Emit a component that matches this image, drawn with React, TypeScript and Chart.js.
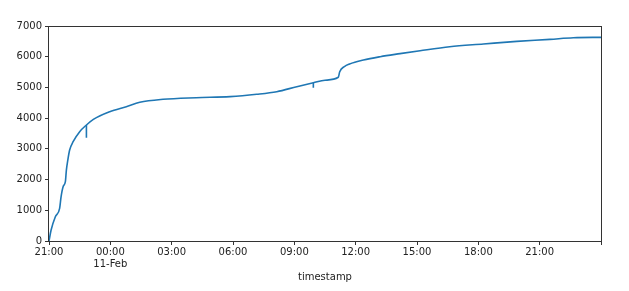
import React, { useEffect, useRef } from "react";
import { Chart, registerables } from "chart.js";

Chart.register(...registerables);

// hours elapsed since 21:00 on 10-Feb
const hours = [
  0, 0.1, 0.31, 0.52, 0.59, 0.69, 0.8, 0.85, 0.92, 1.01, 1.18, 1.5, 1.83,
  2.17, 2.97, 3.78, 4.44, 5.58, 7.2, 8.86, 10.16, 11.14, 12.12, 12.93, 13.5,
  14.15, 14.22, 14.45, 14.7, 15.38, 16.2, 17.17, 18.15, 19.6, 21.25, 22.88,
  24.5, 25.65, 27,
];
const values = [
  0, 350, 790, 1063, 1440, 1770, 1930, 2310, 2637, 2963, 3233, 3560, 3777,
  3960, 4210, 4373, 4515, 4613, 4666, 4700, 4776, 4861, 5024, 5150, 5235,
  5330, 5512, 5680, 5763, 5893, 6000, 6100, 6196, 6326, 6414, 6500,
  6565, 6619, 6630,
];
// short downward glitches in the series
const spikeHours = [1.83, 12.93];
const spikeTops = [3777, 5150];
const spikeLows = [3364, 4990];

const xTickLabels: (string | string[])[] = [
  "21:00", ["00:00", "11-Feb"], "03:00", "06:00", "09:00", "12:00", "15:00", "18:00", "21:00", "",
];
const yTickLabels = ["0", "1000", "2000", "3000", "4000", "5000", "6000", "7000"];
const xTitle = "timestamp";

const framePlugin = {
  id: "frame",
  afterDatasetsDraw(chart: any) {
    const { ctx, chartArea: a } = chart;
    ctx.save();
    ctx.strokeStyle = "#333";
    ctx.lineWidth = 1;
    ctx.strokeRect(
      Math.round(a.left) - 0.5,
      Math.round(a.top) + 0.5,
      Math.round(a.right - a.left) + 1,
      Math.round(a.bottom - a.top)
    );
    ctx.restore();
  },
};

export default function App() {
  const ref = useRef<HTMLCanvasElement>(null);
  useEffect(() => {
    document.body.style.margin = "0";
    const font = { family: "'DejaVu Sans', sans-serif", size: 10 };
    const lineStyle = {
      borderColor: "#1f77b4",
      borderWidth: 1.6,
      pointRadius: 0,
      fill: false,
    };
    const chart = new Chart(ref.current!, {
      type: "line",
      data: {
        datasets: [
          {
            ...lineStyle,
            data: hours.map((h, i) => ({ x: h, y: values[i] })),
            cubicInterpolationMode: "monotone",
          },
          ...spikeHours.map((h, i) => ({
            ...lineStyle,
            data: [
              { x: h, y: spikeTops[i] },
              { x: h, y: spikeLows[i] },
            ],
          })),
        ],
      },
      options: {
        animation: false,
        responsive: false,
        maintainAspectRatio: false,
        layout: { padding: { left: 0, top: 26, right: 28, bottom: 0 } },
        plugins: { legend: { display: false }, tooltip: { enabled: false } },
        scales: {
          x: {
            type: "linear",
            min: 0,
            max: 27,
            ticks: {
              stepSize: 3,
              autoSkip: false,
              maxRotation: 0,
              padding: 1,
              color: "#222",
              font,
              callback: (v: any) => {
                const i = Math.round(Number(v) / 3);
                return xTickLabels[i] ?? "";
              },
            },
            grid: { drawOnChartArea: false, drawTicks: true, tickLength: 4, tickColor: "#333" },
            border: { display: false },
            title: { display: true, text: xTitle, color: "#222", font, padding: { top: 0, bottom: 8 } },
            afterFit: (s: any) => {
              s.height = 50;
            },
          },
          y: {
            min: 0,
            max: 7000,
            ticks: {
              stepSize: 1000,
              padding: 3,
              color: "#222",
              font,
              callback: (v: any) => yTickLabels[Math.round(Number(v) / 1000)] ?? "",
            },
            grid: { drawOnChartArea: false, drawTicks: true, tickLength: 4, tickColor: "#333" },
            border: { display: false },
            afterFit: (s: any) => {
              s.width = 49;
            },
          },
        },
      },
      plugins: [framePlugin],
    } as any);
    return () => chart.destroy();
  }, []);
  return (
    <div style={{ position: "absolute", left: 0, top: 0, width: 629, height: 291 }}>
      <canvas ref={ref} width={629} height={291} style={{ width: 629, height: 291 }} />
    </div>
  );
}
